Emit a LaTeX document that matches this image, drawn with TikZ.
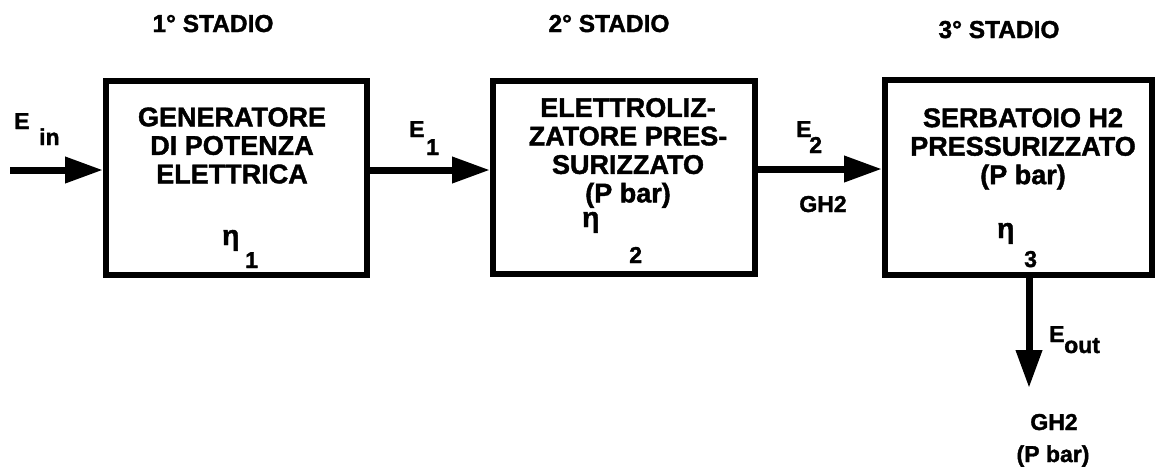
\documentclass[tikz,border=0pt]{standalone}
\usepackage{fontspec}
\setmainfont{Liberation Sans}
\newfontfamily\heavy[FakeBold=1.5]{Liberation Sans Bold}
\usetikzlibrary{arrows.meta}
\begin{document}
\begin{tikzpicture}[x=1pt,y=-1pt,
  box/.style={draw, line width=6pt, rectangle, inner sep=0pt},
  boxtext/.style={inner sep=0pt, align=center, font={\heavy\fontsize{27}{28.5}\selectfont}},
  lbl/.style={inner sep=0pt, font={\heavy\fontsize{23}{24}\selectfont}},
  ttl/.style={inner sep=0pt, font={\heavy\fontsize{24.5}{26}\selectfont}},
  eta/.style={inner sep=0pt, font={\heavy\fontsize{28}{30}\selectfont}},
  arr/.style={line width=7pt, -{Triangle[length=38pt,width=25pt]}}]
\useasboundingbox (0,0) rectangle (1158,469);
% boxes
\node[box, minimum width=261pt, minimum height=194pt] (b1) at (236.5,178) {};
\node[box, minimum width=262pt, minimum height=193pt] (b2) at (624,177.5) {};
\node[box, minimum width=267pt, minimum height=195pt] (b3) at (1018.5,177.5) {};
% titles
\node[ttl, anchor=base] (t1) at (213,32) {1° STADIO};
\node[ttl, anchor=base] (t2) at (609,32) {2° STADIO};
\node[ttl, anchor=base] (t3) at (999,38) {3° STADIO};
% box texts
\node[boxtext] (x1) at (232,145.5) {GENERATORE\\DI POTENZA\\ELETTRICA};
\node[boxtext] (x2) at (628,153) {ELETTROLIZ-\\ZATORE PRES-\\SURIZZATO\\(P bar)};
\node[boxtext] (x3) at (1023,149) {SERBATOIO H2\\PRESSURIZZATO\\(P bar)};
% eta
\node[eta, anchor=base west] (e1) at (222,245) {η};
\node[lbl, anchor=base west] (e1s) at (245,268) {1};
\node[eta, anchor=base west] (e2) at (582,227) {η};
\node[lbl, anchor=base west] (e2s) at (629,263) {2};
\node[eta, anchor=base west] (e3) at (997,238) {η};
\node[lbl, anchor=base west] (e3s) at (1024,267) {3};
% connectors
\coordinate (in) at (10,170);
\coordinate (outend) at (1029,388);
\draw[arr] (in) -- (in -| b1.west);
\draw[arr] (b1.east |- 0,170) -- (b2.west |- 0,170);
\draw[arr] (b2.east |- 0,169) -- (b3.west |- 0,169);
\draw[arr] (b3.south -| outend) -- (outend);
% labels
\node[lbl, anchor=base west] (lin) at (14,129) {E};
\node[lbl, anchor=base west] (linS) at (39,145) {in};
\node[lbl, anchor=base west] (l1) at (409,137) {E};
\node[lbl, anchor=base west] (l1S) at (426,155) {1};
\node[lbl, anchor=base west] (l2) at (796,137) {E};
\node[lbl, anchor=base west] (l2S) at (809,153) {2};
\node[lbl, anchor=base] (g2) at (823,212) {GH2};
\node[lbl, anchor=base west] (lo) at (1049,342) {E};
\node[lbl, anchor=base west] (loS) at (1064,353) {out};
\node[lbl, anchor=base] (g3) at (1054,430) {GH2};
\node[lbl, anchor=base] (p3) at (1053,462) {(P bar)};
\end{tikzpicture}
\end{document}
